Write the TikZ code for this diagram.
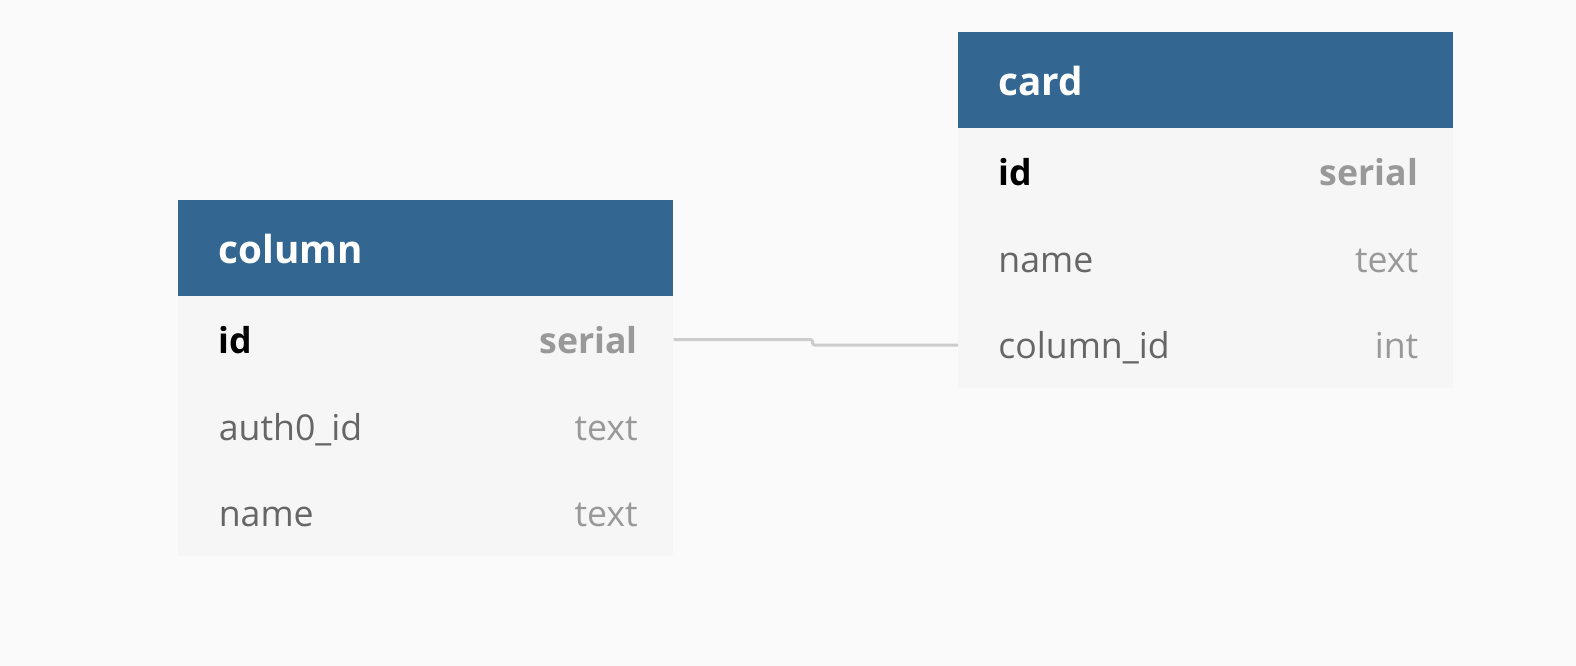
\documentclass[tikz,border=0pt]{standalone}
\usepackage{fontspec}
\setmainfont{Open Sans}
\usetikzlibrary{positioning}

\definecolor{pagebg}{RGB}{250,250,250}
\definecolor{headblue}{RGB}{51,103,146}
\definecolor{rowgray}{RGB}{246,246,246}
\definecolor{namegray}{RGB}{102,102,102}
\definecolor{typegray}{RGB}{153,153,153}
\definecolor{linkgray}{RGB}{204,204,204}

\begin{document}
\begin{tikzpicture}[
    x=0.02cm, y=-0.02cm,
    tablehead/.style={fill=headblue, minimum width=9.9cm, minimum height=1.92cm,
        inner sep=0pt, anchor=north west},
    tablerow/.style={fill=rowgray, minimum width=9.9cm, minimum height=1.7333cm,
        inner sep=0pt, anchor=north west},
    cell/.style={inner xsep=0pt, text height=15.6pt, text depth=0pt},
    headtext/.style={cell, text height=16.8pt, font=\fontsize{22}{26}\selectfont\bfseries,
        text=white, anchor=west},
    keyname/.style={cell, font=\fontsize{20.3}{24}\selectfont\bfseries, text=black,
        anchor=west},
    keytype/.style={cell, font=\fontsize{20.3}{24}\selectfont\bfseries, text=typegray,
        anchor=east},
    fieldname/.style={cell, font=\fontsize{20.3}{24}\selectfont, text=namegray,
        anchor=west},
    fieldtype/.style={cell, font=\fontsize{20.3}{24}\selectfont, text=typegray,
        anchor=east},
    link/.style={draw=linkgray, line width=0.06cm, rounded corners=0.04cm}
]

% Page background
\fill[pagebg] (0,0) rectangle (1576,666);
\useasboundingbox (0,0) rectangle (1576,666);

% Table column
\node[tablehead] (colhead) at (178,200) {};
\node[tablerow] (colid) at (178,296) {};
\node[tablerow] (colauth) at (178,382.67) {};
\node[tablerow] (colname) at (178,469.33) {};
\node[headtext] (colheadtext) at ([xshift=0.81cm]colhead.west) {column};
\node[keyname] (colidname) at ([xshift=0.81cm]colid.west) {id};
\node[keytype] (colidtype) at ([xshift=-0.71cm]colid.east) {serial};
\node[fieldname] (colauthname) at ([xshift=0.81cm]colauth.west) {auth0\_id};
\node[fieldtype] (colauthtype) at ([xshift=-0.71cm]colauth.east) {text};
\node[fieldname] (colnamename) at ([xshift=0.81cm]colname.west) {name};
\node[fieldtype] (colnametype) at ([xshift=-0.71cm]colname.east) {text};

% Table card
\node[tablehead] (cardhead) at (958,32) {};
\node[tablerow] (cardid) at (958,128) {};
\node[tablerow] (cardname) at (958,214.67) {};
\node[tablerow] (cardcol) at (958,301.33) {};
\node[headtext] (cardheadtext) at ([xshift=0.8cm]cardhead.west) {card};
\node[keyname] (cardidname) at ([xshift=0.8cm]cardid.west) {id};
\node[keytype] (cardidtype) at ([xshift=-0.7cm]cardid.east) {serial};
\node[fieldname] (cardnamename) at ([xshift=0.8cm]cardname.west) {name};
\node[fieldtype] (cardnametype) at ([xshift=-0.7cm]cardname.east) {text};
\node[fieldname] (cardcolname) at ([xshift=0.8cm]cardcol.west) {column\_id};
\node[fieldtype] (cardcoltype) at ([xshift=-0.7cm]cardcol.east) {int};

% Reference column_id -> column.id
\draw[link] (colid.east) -- ++(139,0) |- (cardcol.west);

\end{tikzpicture}
\end{document}
